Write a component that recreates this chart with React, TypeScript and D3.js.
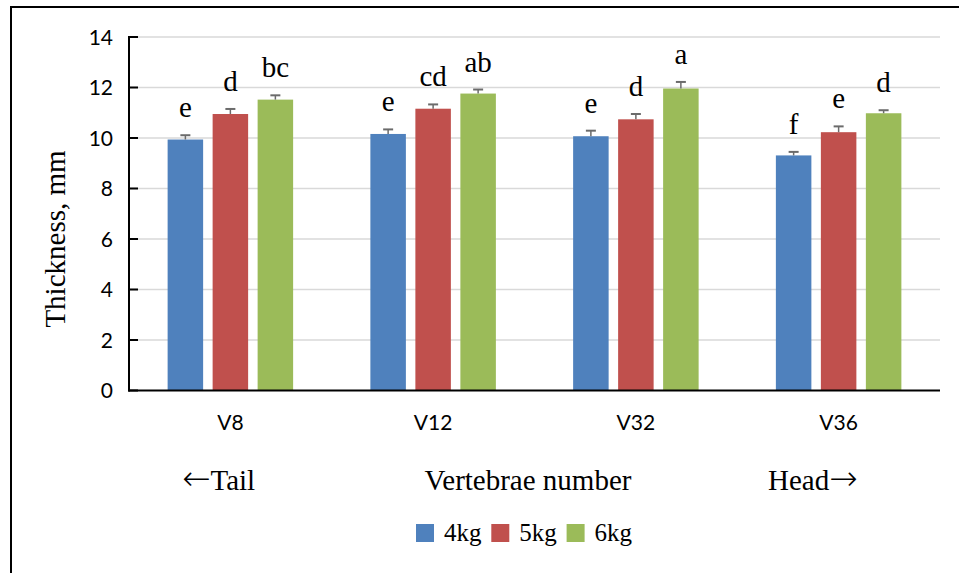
import React from "react";
import * as d3 from "d3";

const categories = ["V8", "V12", "V32", "V36"];
const series = ["4kg", "5kg", "6kg"];
const values4kg = [9.94, 10.16, 10.07, 9.31];
const values5kg = [10.95, 11.16, 10.74, 10.23];
const values6kg = [11.52, 11.76, 11.96, 10.98];
const err4kg = [0.17, 0.18, 0.22, 0.14];
const err5kg = [0.2, 0.17, 0.21, 0.23];
const err6kg = [0.17, 0.16, 0.26, 0.12];
const letters4kg = ["e", "e", "e", "f"];
const letters5kg = ["d", "cd", "d", "e"];
const letters6kg = ["bc", "ab", "a", "d"];
const yTicks = [0, 2, 4, 6, 8, 10, 12, 14];
const colors = ["#4f81bd", "#c0504d", "#9bbb59"];

const W = 959;
const H = 573;
const serif = "'Liberation Serif', 'Times New Roman', serif";
const sans = "Lato, 'Open Sans', sans-serif";
const arrowFont = "'DejaVu Sans', sans-serif";

export default function App() {
  const left = 129;
  const right = 940;
  const top = 37;
  const bottom = 390.5;

  const x0 = d3.scaleBand<string>().domain(categories).range([left, right]).paddingInner(0).paddingOuter(0);
  const x1 = d3.scaleBand<string>().domain(series).range([-62.75, 62.75]).paddingInner(0.211).paddingOuter(0);
  const y = d3.scaleLinear().domain([0, 14]).range([bottom, top]);

  const vals = [values4kg, values5kg, values6kg];
  const errs = [err4kg, err5kg, err6kg];
  const lets = [letters4kg, letters5kg, letters6kg];

  const bars: React.ReactNode[] = [];
  categories.forEach((c, ci) => {
    const cx = (x0(c) ?? 0) + x0.bandwidth() / 2;
    series.forEach((s, si) => {
      const v = vals[si][ci];
      const e = errs[si][ci];
      const bx = cx + (x1(s) ?? 0);
      const bw = x1.bandwidth();
      const mid = bx + bw / 2;
      bars.push(
        <g key={c + s}>
          <rect x={bx} y={y(v)} width={bw} height={y(0) - y(v)} fill={colors[si]} />
          <line x1={mid} x2={mid} y1={y(v)} y2={y(v + e)} stroke="#6b6b6b" strokeWidth={1.5} />
          <line x1={mid - 5} x2={mid + 5} y1={y(v + e)} y2={y(v + e)} stroke="#6b6b6b" strokeWidth={2} />
          <text x={mid} y={y(v + e) - 18} textAnchor="middle" fontFamily={serif} fontSize={29} fill="#000">
            {lets[si][ci]}
          </text>
        </g>
      );
    });
  });

  return (
    <svg width={W} height={H} style={{ position: "absolute", left: 0, top: 0, background: "#fff" }}>
      <rect x={0} y={0} width={W} height={H} fill="#fff" />
      {/* outer frame */}
      <line x1={11} x2={W} y1={7} y2={7} stroke="#000" strokeWidth={2} />
      <line x1={11} x2={11} y1={6} y2={H} stroke="#000" strokeWidth={2} />

      {/* gridlines */}
      {yTicks.filter((t) => t > 0).map((t) => (
        <line key={"g" + t} x1={left} x2={right} y1={y(t)} y2={y(t)} stroke="#d9d9d9" strokeWidth={1.5} />
      ))}

      {bars}

      {/* axes */}
      <line x1={left} x2={left} y1={top - 1} y2={bottom + 1} stroke="#000" strokeWidth={2} />
      <line x1={left - 1} x2={right} y1={bottom} y2={bottom} stroke="#000" strokeWidth={2} />
      {yTicks.map((t) => (
        <g key={"t" + t}>
          <line x1={left} x2={left + 9} y1={y(t)} y2={y(t)} stroke="#000" strokeWidth={2} />
          <text x={113} y={y(t)} dy="0.36em" textAnchor="end" fontFamily={sans} fontSize={21} fill="#000">
            {t}
          </text>
        </g>
      ))}
      {categories.map((c) => (
        <text key={"c" + c} x={(x0(c) ?? 0) + x0.bandwidth() / 2} y={430} textAnchor="middle" fontFamily={sans} fontSize={21} fill="#000">
          {c}
        </text>
      ))}

      {/* y title */}
      <text transform="translate(65,239) rotate(-90)" textAnchor="middle" fontFamily={serif} fontSize={29} fill="#000">
        Thickness, mm
      </text>

      {/* x titles */}
      <text x={182} y={490} fontFamily={serif} fontSize={29} fill="#000">
        <tspan fontFamily={arrowFont} fontSize={34} fontWeight={300}>←</tspan>
        <tspan>Tail</tspan>
      </text>
      <text x={528} y={490} textAnchor="middle" fontFamily={serif} fontSize={29} fill="#000">Vertebrae number</text>
      <text x={768} y={490} fontFamily={serif} fontSize={29} fill="#000">
        <tspan>Head</tspan>
        <tspan fontFamily={arrowFont} fontSize={34} fontWeight={300}>→</tspan>
      </text>

      {/* legend */}
      {series.map((s, i) => (
        <g key={"l" + s} transform={`translate(${416 + i * 75.3},524)`}>
          <rect x={0} y={0} width={18} height={18} fill={colors[i]} />
          <text x={28} y={17} fontFamily={serif} fontSize={25} fill="#000">{s}</text>
        </g>
      ))}
    </svg>
  );
}
